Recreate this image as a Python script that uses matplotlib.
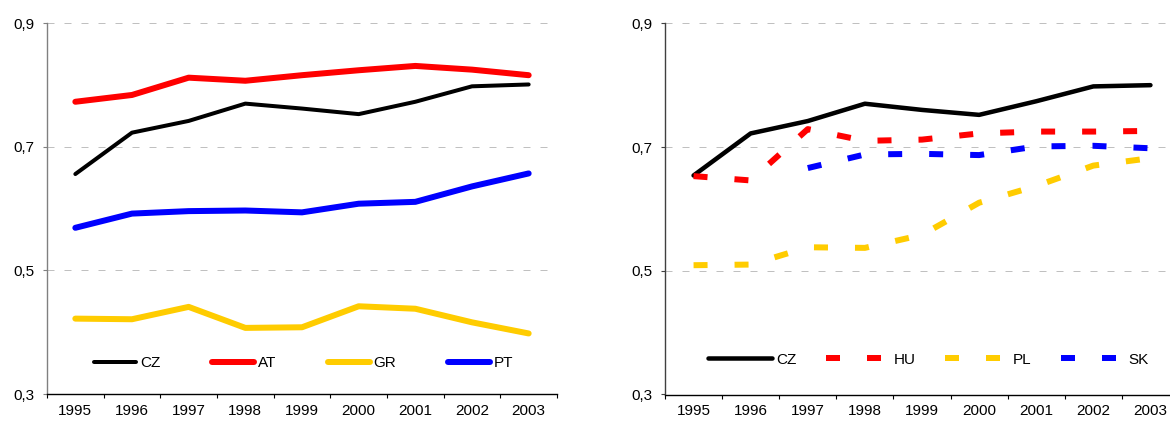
import numpy as np
import matplotlib
matplotlib.use("Agg")
import matplotlib.pyplot as plt
from matplotlib.ticker import FixedLocator

plt.rcParams['font.family'] = ['Liberation Sans', 'DejaVu Sans']
plt.rcParams['font.size'] = 11

years = ['1995', '1996', '1997', '1998', '1999', '2000', '2001', '2002', '2003']
yticks = [0.3, 0.5, 0.7, 0.9]
ytick_labels = ['0,3', '0,5', '0,7', '0,9']

# Left panel
cz = [0.656, 0.723, 0.742, 0.770, 0.762, 0.753, 0.773, 0.798, 0.801]
at = [0.773, 0.784, 0.812, 0.807, 0.816, 0.824, 0.831, 0.825, 0.816]
gr = [0.422, 0.421, 0.441, 0.407, 0.408, 0.442, 0.438, 0.416, 0.398]
pt = [0.569, 0.592, 0.596, 0.597, 0.594, 0.608, 0.611, 0.636, 0.657]

# Right panel
cz_r = [0.654, 0.722, 0.742, 0.770, 0.760, 0.752, 0.774, 0.798, 0.800]
hu = [0.653, 0.646, 0.729, 0.710, 0.712, 0.722, 0.725, 0.725, 0.726]
pl = [0.509, 0.510, 0.538, 0.537, 0.558, 0.610, 0.637, 0.670, 0.682]
sk = [np.nan, np.nan, 0.666, 0.688, 0.689, 0.687, 0.701, 0.702, 0.698]

RED = '#FF0000'
YEL = '#FFCC00'
BLUE = '#0000FF'
px = 0.72  # points per pixel at 100 dpi
FS = 11

fig = plt.figure(figsize=(11.7, 4.25), dpi=100)
axL = fig.add_axes([47/1170, 1-394/425, 510/1170, 370.7/425])
axR = fig.add_axes([665/1170, 1-394.5/425, 514/1170, 371.2/425])

x = np.arange(len(years))


def style(ax, left_color):
    ax.set_xlim(-0.5, len(years) - 0.5)
    ax.set_ylim(0.3, 0.9)
    for s in ['top', 'right']:
        ax.spines[s].set_visible(False)
    ax.spines['left'].set_color(left_color)
    ax.spines['left'].set_linewidth(1.0)
    ax.spines['bottom'].set_color('#000000')
    ax.spines['bottom'].set_linewidth(1.0)
    ax.set_yticks(yticks)
    ax.set_yticklabels(ytick_labels)
    ax.tick_params(axis='y', length=4*px, width=0.8, color=left_color, pad=6.0, labelsize=FS)
    ax.xaxis.set_major_locator(FixedLocator(np.arange(-0.5, len(years), 1.0)))
    ax.set_xticks(x, minor=True)
    ax.set_xticklabels(years, minor=True)
    ax.tick_params(axis='x', which='major', length=4*px, width=0.8, labelbottom=False)
    ax.tick_params(axis='x', which='minor', length=0, pad=7, labelsize=FS)
    for v in [0.5, 0.7, 0.9]:
        ax.axhline(v, color='#C0C0C0', lw=px, dashes=(7, 10), zorder=0, clip_on=False)


style(axL, '#808080')
style(axR, '#404040')

lw6 = 6 * px
kw = dict(solid_capstyle='round', solid_joinstyle='round')
axL.plot(x, cz, color='black', lw=4*px, label='CZ', **kw)
axL.plot(x, at, color=RED, lw=lw6, label='AT', **kw)
axL.plot(x, gr, color=YEL, lw=lw6, label='GR', **kw)
axL.plot(x, pt, color=BLUE, lw=lw6, label='PT', **kw)

axL.legend(loc='center left', bbox_to_anchor=((94-47)/510, (394-363)/370.7),
           ncol=4, frameon=False, borderpad=0, borderaxespad=0,
           handlelength=2.75, handletextpad=0.26, columnspacing=3.37, fontsize=FS)

dash = (14/6, 27/6)
axR.plot(x, cz_r, color='black', lw=4.5*px, label='CZ', **kw)
axR.plot(x, hu, color=RED, lw=lw6, dashes=dash, dash_capstyle='butt', label='HU')
axR.plot(x, pl, color=YEL, lw=lw6, dashes=dash, dash_capstyle='butt', label='PL')
axR.plot(x, sk, color=BLUE, lw=lw6, dashes=dash, dash_capstyle='butt', label='SK')

axR.legend(loc='center left', bbox_to_anchor=((708-665)/514, (395-360)/371.2),
           ncol=4, frameon=False, borderpad=0, borderaxespad=0,
           handlelength=4.18, handletextpad=0.26, columnspacing=1.93, fontsize=FS)

fig.savefig('out.png', dpi=100)
